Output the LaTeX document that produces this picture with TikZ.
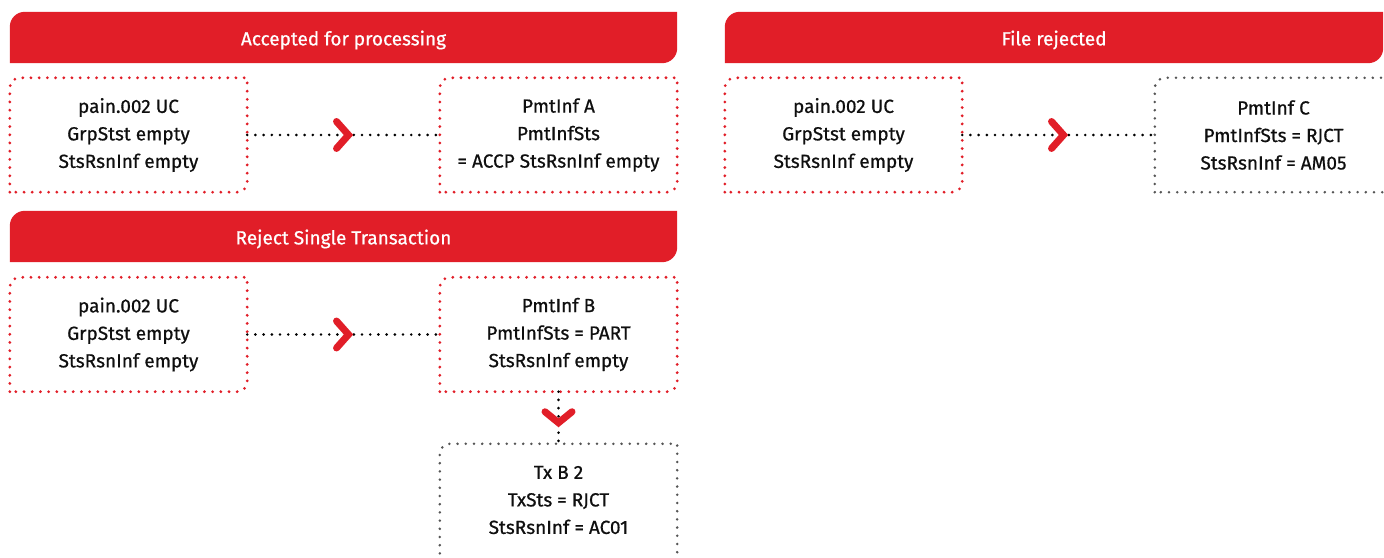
\documentclass[tikz,border=0pt]{standalone}
\usepackage{fontspec}
\setmainfont{Fira Sans}
\newfontfamily\bodyfont{Fira Sans}[FakeBold=0.7]
\usetikzlibrary{calc}
\definecolor{brandred}{RGB}{225,30,40}
\definecolor{dotgray}{RGB}{85,85,85}
\definecolor{txt}{RGB}{15,15,15}
\tikzset{
  box/.style={rectangle, minimum width=237pt, minimum height=114pt, inner sep=0pt, align=center,
    font=\bodyfont\fontsize{19}{27.5}\selectfont, text=txt},
  head/.style={rectangle, minimum width=667pt, minimum height=51pt, inner sep=0pt},
  headtext/.style={font=\bodyfont\fontsize{19}{20}\selectfont, text=white, inner sep=0pt},
  reddots/.style={draw=brandred, line width=3.1pt, line cap=round, dash pattern=on 0pt off 8.2pt},
  graydots/.style={draw=dotgray, line width=2.8pt, line cap=round, dash pattern=on 0pt off 8.2pt},
  conn/.style={draw=black, line width=2.9pt, line cap=round, dash pattern=on 0pt off 8.2pt},
  chev/.style={draw=brandred, line width=7pt, line cap=round, line join=miter},
}
\newcommand\leafpath[3]{% node, options, radius
  \path[#2] (#1.south west) -- ([yshift=-#3pt]#1.north west) arc[start angle=180,end angle=90,radius=#3pt]
    -- (#1.north east) -- ([yshift=#3pt]#1.south east) arc[start angle=0,end angle=-90,radius=#3pt] -- cycle;}
\newcommand\chevright[1]{\draw[chev] ([shift={(-7pt,13.5pt)}]#1) -- ([shift={(5pt,0pt)}]#1) -- ([shift={(-7pt,-13.5pt)}]#1);}
\newcommand\chevdown[1]{\draw[chev] ([shift={(-13.5pt,6pt)}]#1) -- ([shift={(0pt,-5pt)}]#1) -- ([shift={(13.5pt,6pt)}]#1);}
\begin{document}
\begin{tikzpicture}[x=1pt,y=1pt]
\useasboundingbox (0,0) rectangle (1384,557);
\clip (0,0) rectangle (1384,557);
% headers
\node[head] (h1) at (343.5,519.5) {};
\leafpath{h1}{fill=brandred}{15}
\node[head, minimum width=658pt] (h2) at (1054,519.5) {};
\leafpath{h2}{fill=brandred}{15}
\node[head] (h3) at (343.5,320.5) {};
\leafpath{h3}{fill=brandred}{15}
\node[headtext] (t1) at ([yshift=-2.5pt]h1.center) {Accepted for processing};
\node[headtext] (t2) at ([yshift=-2.5pt]h2.center) {File rejected};
\node[headtext] (t3) at ([yshift=-2.5pt]h3.center) {Reject Single Transaction};
% boxes
\node[box] (a1) at (128.5,422) {pain.002 UC\\GrpStst empty\\StsRsnInf empty};
\node[box] (a2) at (558.5,422) {PmtInf A\\PmtInfSts\\= ACCP StsRsnInf empty};
\node[box] (c1) at (843.5,422) {pain.002 UC\\GrpStst empty\\StsRsnInf empty};
\node[box] (c2) at (1273.5,422) {PmtInf C\\PmtInfSts = RJCT\\StsRsnInf = AM05};
\node[box] (b1) at (128.5,222.5) {pain.002 UC\\GrpStst empty\\StsRsnInf empty};
\node[box] (b2) at (558.5,222.5) {PmtInf B\\PmtInfSts = PART\\StsRsnInf empty};
\node[box, minimum height=112pt] (b3) at (558.5,57) {Tx B 2\\TxSts = RJCT\\StsRsnInf = AC01};
\leafpath{a1}{reddots}{10}
\leafpath{a2}{reddots}{10}
\leafpath{c1}{reddots}{10}
\leafpath{c2}{graydots}{10}
\leafpath{b1}{reddots}{10}
\leafpath{b2}{reddots}{10}
\path[graydots] ([yshift=-30pt]b3.south west) -- ([yshift=-10pt]b3.north west) arc[start angle=180,end angle=90,radius=10pt]
    -- (b3.north east) -- ([yshift=-30pt]b3.south east);
% connectors
\draw[conn] (a1.east) -- (a2.west);
\draw[conn] (c1.east) -- (c2.west);
\draw[conn] (b1.east) -- (b2.west);
\draw[conn] (b2.south) -- (b3.north);
\chevright{$(a1.east)!0.5!(a2.west)$}
\chevright{$(c1.east)!0.5!(c2.west)$}
\chevright{$(b1.east)!0.5!(b2.west)$}
\chevdown{$(b2.south)!0.5!(b3.north)$}
\end{tikzpicture}
\end{document}
